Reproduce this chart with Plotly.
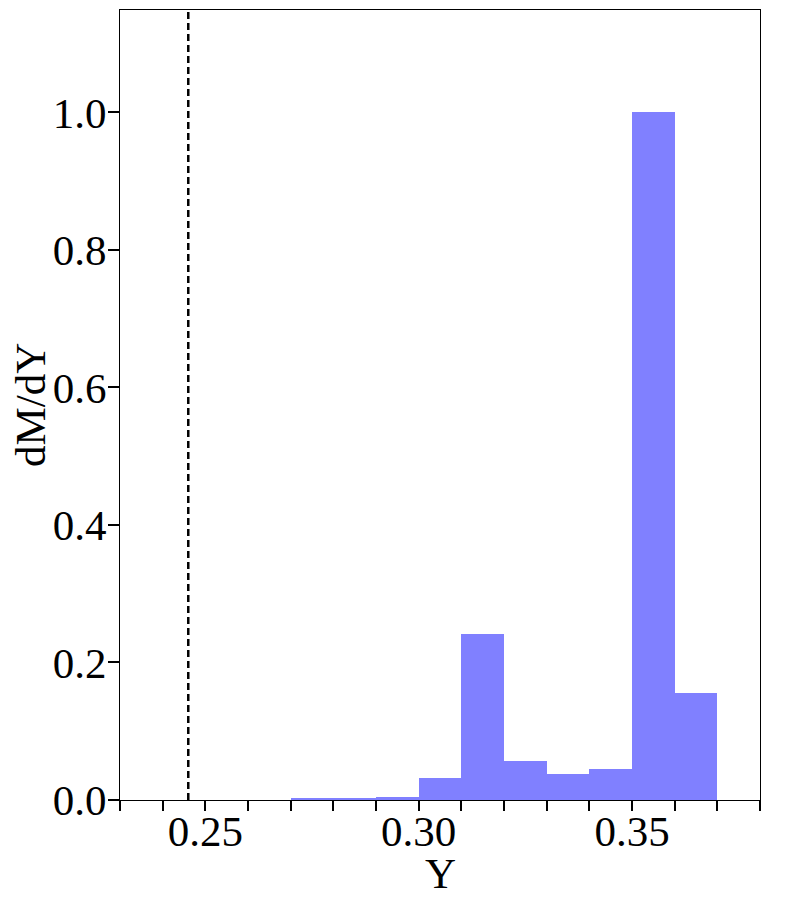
import plotly.graph_objects as go

# Histogram data (bin left edges, bin width 0.01)
bin_left = [0.27, 0.28, 0.29, 0.30, 0.31, 0.32, 0.33, 0.34, 0.35, 0.36]
dMdY = [0.0015, 0.003, 0.0045, 0.032, 0.241, 0.057, 0.038, 0.045, 1.0, 0.156]
bin_width = 0.01
ref_line_x = 0.246

x_ticks = [0.25, 0.30, 0.35]
x_ticklabels = ["0.25", "0.30", "0.35"]
y_ticks = [0.0, 0.2, 0.4, 0.6, 0.8, 1.0]
y_ticklabels = ["0.0", "0.2", "0.4", "0.6", "0.8", "1.0"]

font_family = "Liberation Serif, Times New Roman, serif"
fs = 43

fig = go.Figure()
fig.add_trace(go.Bar(
    x=[b + bin_width / 2 for b in bin_left],
    y=dMdY,
    width=[bin_width] * len(bin_left),
    marker=dict(color="#8080ff", line=dict(width=0)),
    showlegend=False,
))

fig.add_shape(type="line", xref="x", yref="paper",
              x0=ref_line_x, x1=ref_line_x, y0=0, y1=1,
              line=dict(color="black", width=2.5, dash="7px,4px"))

fig.update_layout(
    width=792, height=892,
    margin=dict(l=112, r=40, t=2, b=100),
    plot_bgcolor="white", paper_bgcolor="white",
    bargap=0,
    font=dict(family=font_family, size=fs, color="black"),
    xaxis=dict(
        range=[0.23, 0.38], automargin=False,
        tickvals=x_ticks, ticktext=x_ticklabels,
        ticks="outside", ticklen=10, tickwidth=2, tickcolor="black",
        ticklabelstandoff=-17,
        showline=True, linecolor="black", linewidth=1, mirror=True,
        showgrid=False, zeroline=False,
        minor=dict(dtick=0.01, tick0=0.23, ticks="outside", ticklen=10,
                   tickwidth=2, tickcolor="black", showgrid=False),
        tickfont=dict(family=font_family, size=fs),
    ),
    yaxis=dict(
        range=[0, 1.149], automargin=False,
        tickvals=y_ticks, ticktext=y_ticklabels,
        ticks="outside", ticklen=11, tickwidth=2, tickcolor="black",
        ticklabelstandoff=-7,
        showline=True, linecolor="black", linewidth=1, mirror=True,
        showgrid=False, zeroline=False,
        tickfont=dict(family=font_family, size=fs),
    ),
    annotations=[
        dict(text="Y", xref="paper", yref="paper", x=0.5, y=0,
             xanchor="center", yanchor="middle", yshift=-73,
             showarrow=False, font=dict(family=font_family, size=fs)),
        dict(text="dM/dY", xref="paper", yref="paper", x=0, y=0.5,
             xanchor="center", yanchor="middle", xshift=-90, textangle=-90,
             showarrow=False, font=dict(family=font_family, size=fs)),
    ],
)

fig.write_html("out.html")
